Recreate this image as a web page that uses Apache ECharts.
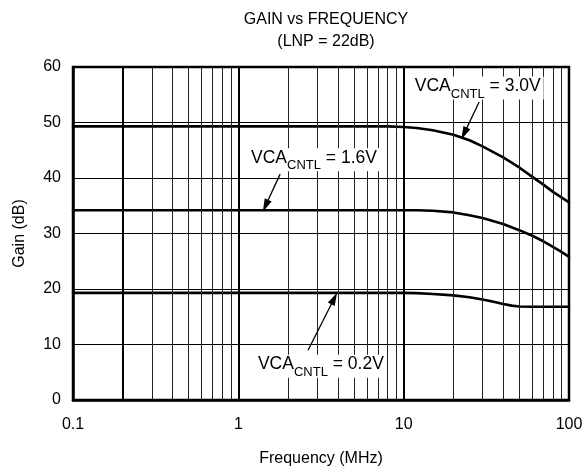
<!DOCTYPE html>
<html><head><meta charset="utf-8">
<script src="https://cdn.jsdelivr.net/npm/echarts@6/dist/echarts.min.js"></script>
<style>html,body{margin:0;padding:0;background:#fff}#c{width:586px;height:472px}</style>
</head><body><div id="c"></div>
<script>
// ---- data ----
const titleLines = ['GAIN vs FREQUENCY', '(LNP = 22dB)'];
const xTickValues = [0.1, 1, 10, 100];
const yTickValues = [0, 10, 20, 30, 40, 50, 60];
const minorFreqs = [0.3,0.4,0.5,0.6,0.7,0.8,0.9,2,3,4,5,6,7,8,9,20,30,40,50,60,70,80,90];
const heavyMinorFreqs = [0.2];

const freq30 = [0.1, 1, 5, 8, 10, 12, 15, 20, 25, 30, 40, 50, 60, 70, 80, 90, 100];
const gain30 = [49.3, 49.3, 49.3, 49.3, 49.2, 49.0, 48.6, 47.8, 46.8, 45.7, 43.7, 41.9, 40.2, 38.8, 37.5, 36.5, 35.6];
const freq16 = [0.1, 1, 5, 10, 12, 15, 20, 25, 30, 40, 50, 60, 70, 80, 90, 100];
const gain16 = [34.2, 34.2, 34.2, 34.2, 34.2, 34.1, 33.8, 33.3, 32.8, 31.7, 30.6, 29.6, 28.6, 27.6, 26.7, 25.8];
const freq02 = [0.1, 1, 5, 10, 12, 15, 20, 25, 30, 35, 40, 45, 50, 60, 100];
const gain02 = [19.3, 19.3, 19.3, 19.3, 19.25, 19.1, 18.85, 18.5, 18.1, 17.7, 17.3, 17.0, 16.85, 16.8, 16.8];
const seriesNames = ['3.0V', '1.6V', '0.2V'];

// ---- chart ----
const zip = (a, b) => a.map((v, i) => [v, b[i]]);
const FONT = 'Liberation Sans, Arial, sans-serif';
const arrowPath = 'path://M0,0L1,3.4L-1,3.4Z';

function annot(name, labelAt, arrowFrom, arrowTo) {
  return {
    markPoint: {
      silent: true, symbol: 'rect', symbolSize: 0, animation: false,
      data: [{ coord: labelAt }],
      label: {
        show: true, position: 'right', distance: 0,
        backgroundColor: '#fff', padding: [1, 3, 3, 3],
        formatter: '{a|VCA}{s|CNTL}{a| = ' + name + '}',
        rich: {
          a: { fontFamily: FONT, fontSize: 17.5, color: '#000', lineHeight: 19, verticalAlign: 'top' },
          s: { fontFamily: FONT, fontSize: 13, color: '#000', lineHeight: 13, padding: [10, 0, 0, 0], verticalAlign: 'top' }
        }
      }
    },
    markLine: {
      silent: true, animation: false,
      symbol: ['none', arrowPath], symbolSize: 13, symbolKeepAspect: true,
      lineStyle: { color: '#000', width: 1.3, type: 'solid' },
      label: { show: false },
      data: [[{ coord: arrowFrom }, { coord: arrowTo }]]
    }
  };
}

const curveStyle = { color: '#000', width: 2.6, join: 'round', cap: 'round' };

const option = {
  animation: false,
  backgroundColor: '#fff',
  title: {
    text: titleLines.join('\n'), left: 321, top: 4, textAlign: 'center',
    textStyle: { fontFamily: FONT, fontSize: 16, fontWeight: 'normal', color: '#000', lineHeight: 22 }
  },
  grid: { left: 73, right: 17, top: 67, bottom: 70, show: true, borderColor: '#000', borderWidth: 2.5, backgroundColor: 'transparent' },
  xAxis: {
    type: 'log', logBase: 10, min: 0.1, max: 100,
    name: 'Frequency (MHz)', nameLocation: 'middle', nameGap: 51,
    nameTextStyle: { fontFamily: FONT, fontSize: 16, color: '#000' },
    axisLine: { show: true, lineStyle: { color: '#000', width: 2.5 } },
    axisTick: { show: false },
    axisLabel: { fontFamily: FONT, fontSize: 16, color: '#000', margin: 17,
      formatter: v => { const m = xTickValues.find(t => Math.abs(t - v) / t < 1e-6); return m === undefined ? '' : String(m); } },
    splitLine: { show: true, lineStyle: { color: '#000', width: 2 } },
    minorTick: { show: false }, minorSplitLine: { show: false }
  },
  yAxis: {
    type: 'value', min: 0, max: 60, interval: 10,
    name: 'Gain (dB)', nameLocation: 'middle', nameGap: 45,
    nameTextStyle: { fontFamily: FONT, fontSize: 16, color: '#000' },
    axisLine: { show: true, lineStyle: { color: '#000', width: 2.5 } },
    axisTick: { show: false },
    axisLabel: { fontFamily: FONT, fontSize: 16, color: '#000', margin: 12,
      formatter: v => yTickValues.includes(v) ? String(v) : '' },
    splitLine: { show: true, lineStyle: { color: '#000', width: 1 } }
  },
  series: [
    {
      type: 'line', name: 'grid', data: [], z: 1, silent: true,
      markLine: {
        silent: true, animation: false, symbol: 'none', label: { show: false },
        data: minorFreqs.map(f => ({ xAxis: f, lineStyle: { color: '#222', width: 1, type: 'solid' } }))
          .concat(heavyMinorFreqs.map(f => ({ xAxis: f, lineStyle: { color: '#000', width: 2, type: 'solid' } })))
      }
    },
    Object.assign({
      type: 'line', name: seriesNames[0], data: zip(freq30, gain30), z: 3,
      showSymbol: false, smooth: false, lineStyle: curveStyle
    }, annot(seriesNames[0], [11.2, 56.2], [28.6, 53.7], [23.2, 48.0])),
    Object.assign({
      type: 'line', name: seriesNames[1], data: zip(freq16, gain16), z: 3,
      showSymbol: false, smooth: false, lineStyle: curveStyle
    }, annot(seriesNames[1], [1.145, 43.3], [1.79, 40.7], [1.46, 35.0])),
    Object.assign({
      type: 'line', name: seriesNames[2], data: zip(freq02, gain02), z: 3,
      showSymbol: false, smooth: false, lineStyle: curveStyle
    }, annot(seriesNames[2], [1.26, 6.1], [2.64, 8.96], [3.8, 18.3]))
  ]
};

const chart = echarts.init(document.getElementById('c'), null, { renderer: 'canvas' });
chart.setOption(option);
</script>
</body></html>
